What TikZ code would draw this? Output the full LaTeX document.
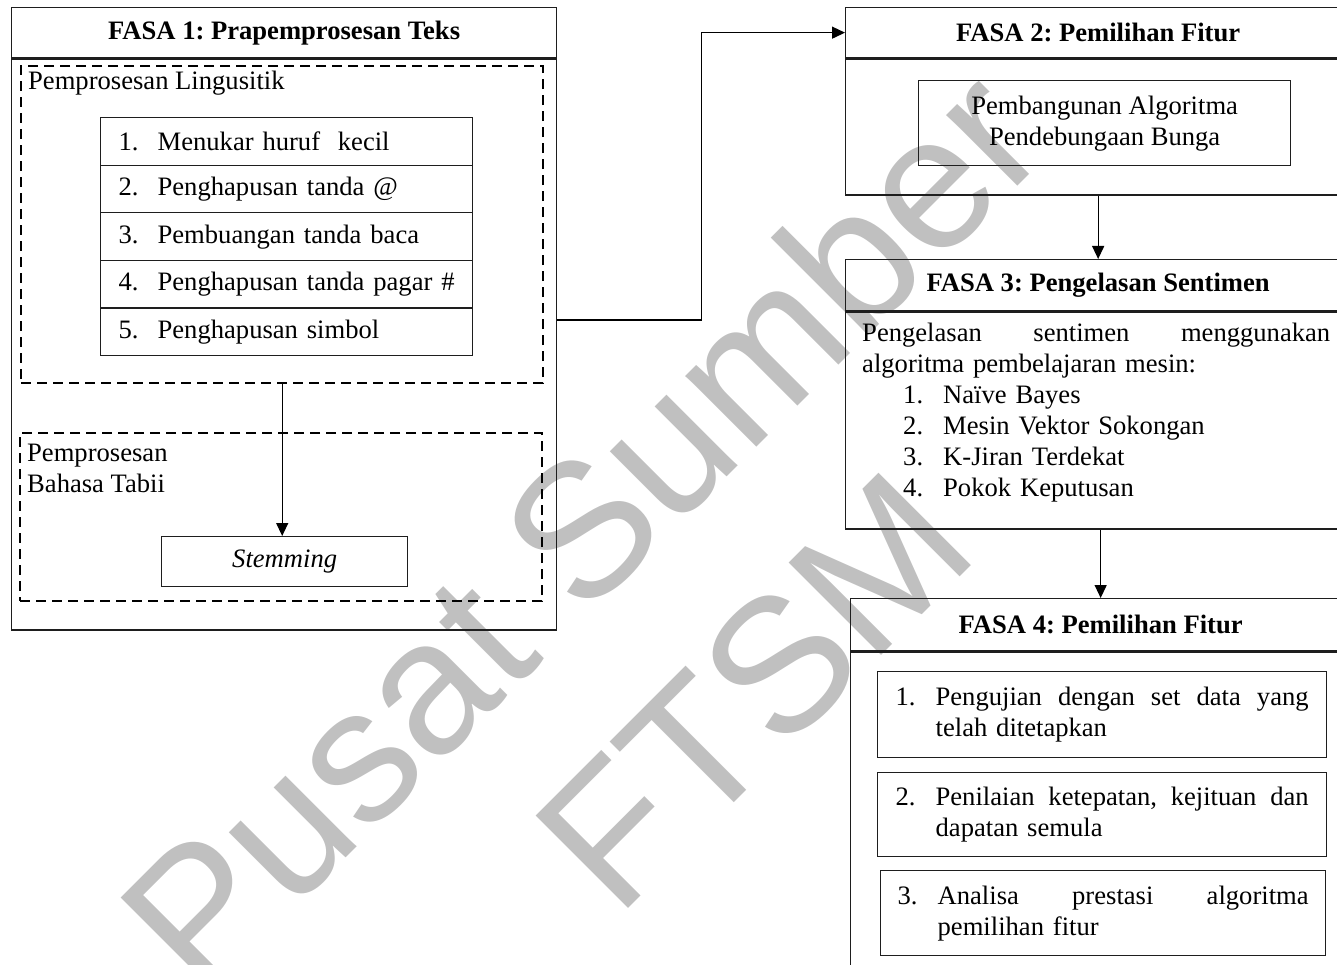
\documentclass[tikz,border=0pt]{standalone}
\usepackage{fontspec}
\setmainfont{Liberation Serif}
\newfontfamily\wmfont{Liberation Sans}
\usepackage{xcolor}
\usepackage{tikz}
\usetikzlibrary{arrows.meta,positioning,calc}
\definecolor{garis}{RGB}{30,30,30}
\definecolor{tanda}{RGB}{192,192,192}
\newcommand{\besar}{\fontsize{26.6}{31}\selectfont\frenchspacing}
\tikzset{
  kotak/.style={draw=garis,line width=1.3pt,inner sep=0pt},
  tajuk/.style={kotak,minimum height=50pt,font=\besar\bfseries},
  putus/.style={draw=black,line width=2.4pt,dash pattern=on 10pt off 6pt,inner sep=0pt,anchor=north west},
  senarai/.style={kotak,minimum width=372pt,minimum height=47.6pt,text width=350pt,inner xsep=11pt,align=left,anchor=north west},
  labelkotak/.style={anchor=north west,inner xsep=8pt,inner ysep=6pt,align=left},
  ujian/.style={kotak,text width=413pt,inner xsep=18pt,align=left,anchor=north west},
  anak/.style={-{Triangle[length=13pt,width=12pt]},draw=black,line width=1.3pt},
  tanda air/.style={text=tanda,font=\wmfont\fontsize{190}{190}\selectfont,rotate=45,anchor=base,inner sep=0pt}
}

\begin{document}
\begin{tikzpicture}[x=1pt,y=-1pt,font=\besar]
\path[use as bounding box,clip] (0,0) rectangle (1337,965);

% tanda air
\node[tanda air] (wm1) at (628,576) {Pusat Sumber};
\node[tanda air] (wm2) at (800,737) {FTSM};

% FASA 1
\node[tajuk,minimum width=545pt,anchor=north west] (f1h) at (11,7) {FASA 1: Prapemprosesan Teks};
\node[kotak,minimum width=545pt,minimum height=571pt,below=0pt of f1h] (f1b) {};
\node[putus,minimum width=522pt,minimum height=317pt] (ling) at (20,65) {};
\node[labelkotak] (lingt) at (ling.north west) {Pemprosesan Lingusitik};
\foreach \teks [count=\i] in {Menukar huruf\ \ kecil, Penghapusan tanda @, Pembuangan tanda baca,
    Penghapusan tanda pagar \#, Penghapusan simbol}
  \node[senarai] (r\i) at (100,{117+(\i-1)*47.6}) {\hspace*{7pt}\makebox[39pt][l]{\i.}\teks};
\node[putus,minimum width=522pt,minimum height=168pt] (nlp) at (19,432) {};
\node[labelkotak,yshift=-6pt] (nlpt) at (nlp.north west) {Pemprosesan\\Bahasa Tabii};
\node[kotak,minimum width=246pt,minimum height=50pt,font=\besar\itshape,anchor=north west] (stem) at (161,536) {Stemming};
\draw[anak] (ling.south) -- (ling.south |- stem.north);

% FASA 2
\node[tajuk,minimum width=505pt,anchor=north west] (f2h) at (845,7) {FASA 2: Pemilihan Fitur};
\node[kotak,minimum width=505pt,minimum height=136pt,below=0pt of f2h] (f2b) {};
\node[kotak,minimum width=372pt,minimum height=85pt,align=center,anchor=north west] (bunga) at (918,80)
  {Pembangunan Algoritma\\Pendebungaan Bunga};
\draw[anak] ([yshift=24.5pt]f1b.east) -- ++(144,0) |- (f2h.west);

% FASA 3
\node[tajuk,minimum width=505pt,minimum height=51pt,anchor=north west] (f3h) at (845,259) {FASA 3: Pengelasan Sentimen};
\node[kotak,minimum width=505pt,minimum height=217pt,below=0pt of f3h] (f3b) {};
\node[anchor=north west,text width=468pt,inner xsep=17pt,inner ysep=12pt,align=left] (f3t) at (f3b.north west)
  {Pengelasan\hfill sentimen\hfill menggunakan\\
   algoritma pembelajaran mesin:\\
   \hspace*{41pt}\makebox[40pt][l]{1.}Naïve Bayes\\
   \hspace*{41pt}\makebox[40pt][l]{2.}Mesin Vektor Sokongan\\
   \hspace*{41pt}\makebox[40pt][l]{3.}K-Jiran Terdekat\\
   \hspace*{41pt}\makebox[40pt][l]{4.}Pokok Keputusan};
\draw[anak] (f2b.south) -- (f3h.north);

% FASA 4
\node[tajuk,minimum width=500pt,minimum height=52pt,anchor=north west] (f4h) at (850,598) {FASA 4: Pemilihan Fitur};
\node[kotak,minimum width=500pt,minimum height=360pt,below=0pt of f4h] (f4b) {};
\draw[anak] (f4h.north |- f3b.south) -- (f4h.north);
\node[ujian,minimum width=448pt,minimum height=86pt] (u1) at (877,671)
  {\makebox[40pt][l]{1.}Pengujian\hfill dengan\hfill set\hfill data\hfill yang\\\hspace*{40pt}telah ditetapkan};
\node[ujian,minimum width=448pt,minimum height=84pt] (u2) at (877,772)
  {\makebox[40pt][l]{2.}Penilaian\hfill ketepatan,\hfill kejituan\hfill dan\\\hspace*{40pt}dapatan semula};
\node[ujian,text width=411pt,inner xsep=17pt,minimum height=85pt] (u3) at (880,870)
  {\makebox[40pt][l]{3.}Analisa\hfill prestasi\hfill algoritma\\\hspace*{40pt}pemilihan fitur};
\end{tikzpicture}
\end{document}
